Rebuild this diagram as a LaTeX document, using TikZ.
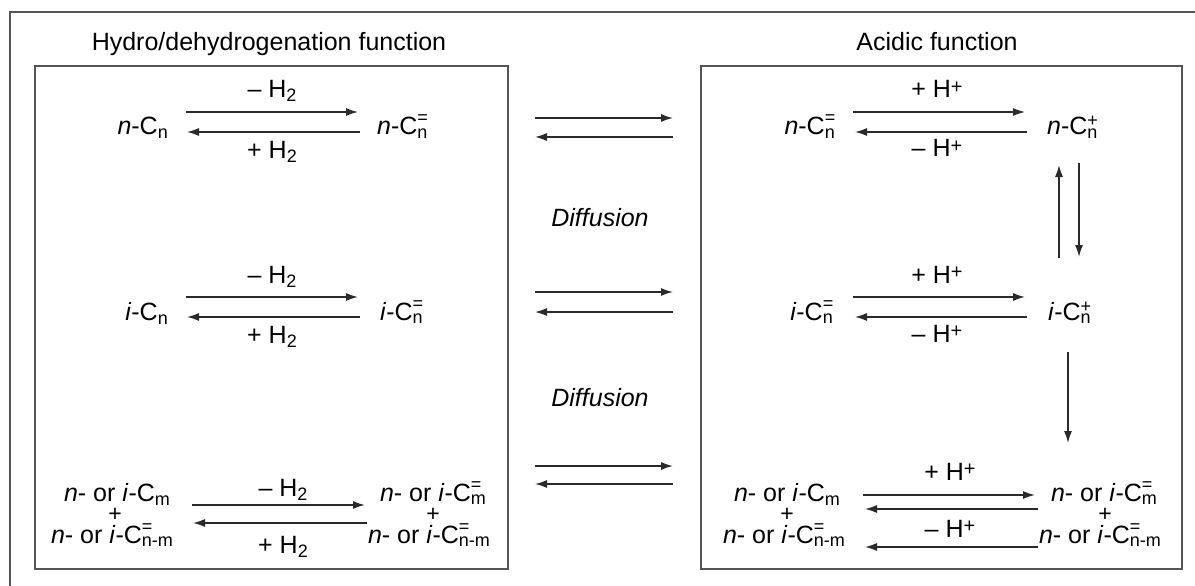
\documentclass[tikz,border=0pt]{standalone}
\usepackage{fontspec}
\setmainfont{Liberation Sans}
\usetikzlibrary{arrows.meta}
\definecolor{framegray}{HTML}{555555}
\definecolor{arrowgray}{HTML}{2A2A2A}
\newcommand\sbf{\fontsize{18}{18}\selectfont}
\newcommand\lo[1]{\raisebox{-4pt}{\sbf #1}}
\newcommand\hi[1]{\raisebox{5pt}{\fontsize{20}{20}\selectfont #1}}
\newcommand\stk[3]{\rlap{\raisebox{#1}{\sbf #2}}\raisebox{-3pt}{\sbf #3}}
\newcommand\Eqs[1]{\stk{11pt}{=}{#1}}
\newcommand\Pls[1]{\stk{8pt}{+}{#1}}
\tikzset{
  lbl/.style={inner sep=0pt, font=\fontsize{25}{28}\selectfont, text=black},
  plus/.style={inner sep=0pt, font=\fontsize{23}{24}\selectfont, text=black},
  rxn/.style={line width=1.5pt, draw=arrowgray, -{Latex[length=12pt,width=8pt]}},
  frame/.style={line width=1.6pt, draw=framegray},
}
\begin{document}
\begin{tikzpicture}[x=1pt,y=-1pt]
\useasboundingbox (0,0) rectangle (1195,586);
% outer frame (open to the right and bottom)
\draw[frame] (10,586) -- (10,12) -- (1195,12);
% boxes
\draw[frame] (35,66) rectangle (508,569);
\draw[frame] (701,66) rectangle (1182,569);
% titles
\node[lbl, anchor=base] (tl) at (269,51) {Hydro/dehydrogenation function};
\node[lbl, anchor=base] (tr) at (937,51) {Acidic function};

% ---------- left box ----------
% row 1
\node[lbl, anchor=base east] (L1a) at (168,135) {\textit{n}-C\lo{n}};
\node[lbl, anchor=base west] (L1b) at (377,135) {\textit{n}-C\Eqs{n}};
\node[lbl, anchor=base] (L1u) at (272,98) {– H\lo{2}};
\node[lbl, anchor=base] (L1d) at (272,158) {+ H\lo{2}};
\coordinate (L1f0) at (186,112); \coordinate (L1f1) at (358,112);
\coordinate (L1r0) at (360,132); \coordinate (L1r1) at (187,132);
\draw[rxn] (L1f0) -- (L1f1);
\draw[rxn] (L1r0) -- (L1r1);
% row 2
\node[lbl, anchor=base east] (L2a) at (168,320) {\textit{i}-C\lo{n}};
\node[lbl, anchor=base west] (L2b) at (380,320) {\textit{i}-C\Eqs{n}};
\node[lbl, anchor=base] (L2u) at (272,283) {– H\lo{2}};
\node[lbl, anchor=base] (L2d) at (272,343) {+ H\lo{2}};
\coordinate (L2f0) at (186,297); \coordinate (L2f1) at (358,297);
\coordinate (L2r0) at (360,317); \coordinate (L2r1) at (187,317);
\draw[rxn] (L2f0) -- (L2f1);
\draw[rxn] (L2r0) -- (L2r1);
% row 3
\node[lbl, anchor=base] (L3a1) at (117,501) {\textit{n}- or \textit{i}-C\lo{m}};
\node[plus, anchor=base] (L3a2) at (115,521) {+};
\node[lbl, anchor=base] (L3a3) at (112,543) {\textit{n}- or \textit{i}-C\Eqs{n-m}};
\node[lbl, anchor=base] (L3b1) at (433,501) {\textit{n}- or \textit{i}-C\Eqs{m}};
\node[plus, anchor=base] (L3b2) at (433,521) {+};
\node[lbl, anchor=base] (L3b3) at (429,543) {\textit{n}- or \textit{i}-C\Eqs{n-m}};
\node[lbl, anchor=base] (L3u) at (283,496) {– H\lo{2}};
\node[lbl, anchor=base] (L3d) at (283,553) {+ H\lo{2}};
\coordinate (L3f0) at (192,505); \coordinate (L3f1) at (365,505);
\coordinate (L3r0) at (367,523); \coordinate (L3r1) at (193,523);
\draw[rxn] (L3f0) -- (L3f1);
\draw[rxn] (L3r0) -- (L3r1);

% ---------- diffusion ----------
\coordinate (D1f0) at (535,118); \coordinate (D1f1) at (673,118);
\coordinate (D1r0) at (673,137); \coordinate (D1r1) at (535,137);
\coordinate (D2f0) at (535,292); \coordinate (D2f1) at (673,292);
\coordinate (D2r0) at (673,312); \coordinate (D2r1) at (535,312);
\coordinate (D3f0) at (535,466); \coordinate (D3f1) at (673,466);
\coordinate (D3r0) at (673,484); \coordinate (D3r1) at (535,484);
\draw[rxn] (D1f0) -- (D1f1);
\draw[rxn] (D1r0) -- (D1r1);
\draw[rxn] (D2f0) -- (D2f1);
\draw[rxn] (D2r0) -- (D2r1);
\draw[rxn] (D3f0) -- (D3f1);
\draw[rxn] (D3r0) -- (D3r1);
\node[lbl, anchor=base] (dif1) at (600,226) {\textit{Diffusion}};
\node[lbl, anchor=base] (dif2) at (600,406) {\textit{Diffusion}};

% ---------- right box ----------
% row 1
\node[lbl, anchor=base east] (R1a) at (835,135) {\textit{n}-C\Eqs{n}};
\node[lbl, anchor=base west] (R1b) at (1047,135) {\textit{n}-C\Pls{n}};
\node[lbl, anchor=base] (R1u) at (937,98) {+ H\hi{+}};
\node[lbl, anchor=base] (R1d) at (937,157) {– H\hi{+}};
\coordinate (R1f0) at (853,112); \coordinate (R1f1) at (1025,112);
\coordinate (R1r0) at (1027,132); \coordinate (R1r1) at (855,132);
\draw[rxn] (R1f0) -- (R1f1);
\draw[rxn] (R1r0) -- (R1r1);
% vertical between n-C+ and i-C+
\coordinate (V1a) at (1059,258); \coordinate (V1b) at (1059,165);
\coordinate (V2a) at (1079,163); \coordinate (V2b) at (1079,257);
\draw[rxn] (V1a) -- (V1b);
\draw[rxn] (V2a) -- (V2b);
% row 2
\node[lbl, anchor=base east] (R2a) at (833,320) {\textit{i}-C\Eqs{n}};
\node[lbl, anchor=base west] (R2b) at (1048,320) {\textit{i}-C\Pls{n}};
\node[lbl, anchor=base] (R2u) at (937,283) {+ H\hi{+}};
\node[lbl, anchor=base] (R2d) at (937,342) {– H\hi{+}};
\coordinate (R2f0) at (853,297); \coordinate (R2f1) at (1025,297);
\coordinate (R2r0) at (1027,317); \coordinate (R2r1) at (855,317);
\draw[rxn] (R2f0) -- (R2f1);
\draw[rxn] (R2r0) -- (R2r1);
% down to cracking
\coordinate (V3a) at (1068,352); \coordinate (V3b) at (1068,443);
\draw[rxn] (V3a) -- (V3b);
% row 3
\node[lbl, anchor=base] (R3a1) at (787,501) {\textit{n}- or \textit{i}-C\lo{m}};
\node[plus, anchor=base] (R3a2) at (787,521) {+};
\node[lbl, anchor=base] (R3a3) at (784,543) {\textit{n}- or \textit{i}-C\Eqs{n-m}};
\node[lbl, anchor=base] (R3b1) at (1104,501) {\textit{n}- or \textit{i}-C\Eqs{m}};
\node[plus, anchor=base] (R3b2) at (1105,521) {+};
\node[lbl, anchor=base] (R3b3) at (1100,543) {\textit{n}- or \textit{i}-C\Eqs{n-m}};
\node[lbl, anchor=base] (R3u) at (950,480) {+ H\hi{+}};
\node[lbl, anchor=base] (R3d) at (950,537) {– H\hi{+}};
\coordinate (R3f0) at (863,495); \coordinate (R3f1) at (1035,495);
\coordinate (R3r0) at (1038,509); \coordinate (R3r1) at (865,509);
\coordinate (R3s0) at (1038,547); \coordinate (R3s1) at (865,547);
\draw[rxn] (R3f0) -- (R3f1);
\draw[rxn] (R3r0) -- (R3r1);
\draw[rxn] (R3s0) -- (R3s1);
\end{tikzpicture}
\end{document}
